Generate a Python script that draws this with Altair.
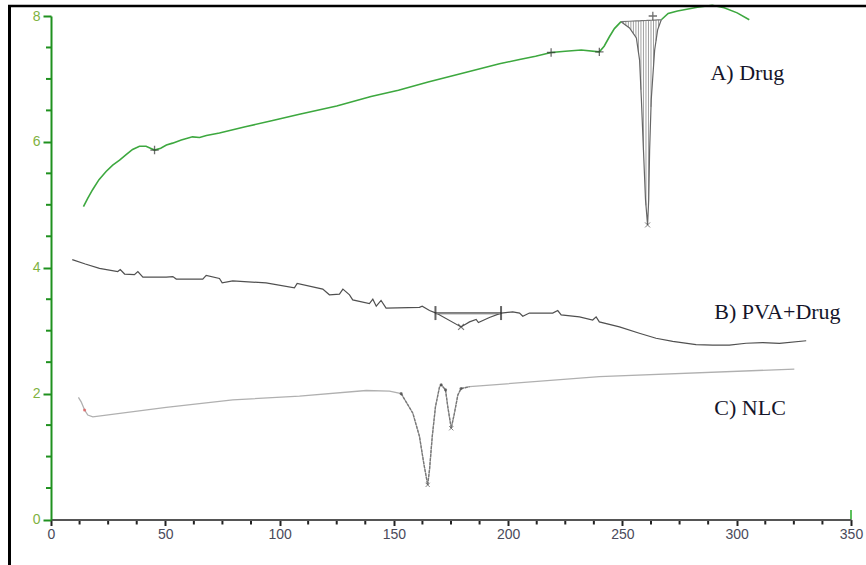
import altair as alt
import pandas as pd
import numpy as np

# ---------------- data ----------------
drug_x = [14.2, 16.0, 18.2, 21.0, 24.1, 27.0, 30.0, 33.0, 35.7, 38.7, 41.6, 43.5, 45.3, 48.0,
          50.5, 53.2, 57.0, 61.9, 65.0, 68.0, 73.7, 85.0, 97.0, 108.7, 125.0, 140.0, 152.0,
          165.0, 180.0, 196.2, 205.0, 212.0, 218.8, 225.0, 232.0, 239.9, 242.0, 244.3, 246.5,
          249.4, 253.1, 256.1, 257.5, 258.3, 259.2, 260.1, 261.0, 261.5, 261.9, 262.6, 264.1,
          265.4, 267.0, 270.0, 274.1, 282.8, 289.3, 294.5, 300.2, 305.5]
drug_y = [4.97, 5.10, 5.24, 5.40, 5.53, 5.63, 5.71, 5.80, 5.88, 5.93, 5.93, 5.90, 5.87, 5.90,
          5.95, 5.98, 6.03, 6.08, 6.07, 6.10, 6.14, 6.24, 6.34, 6.44, 6.57, 6.72, 6.82,
          6.95, 7.09, 7.24, 7.31, 7.36, 7.42, 7.44, 7.46, 7.43, 7.52, 7.67, 7.80,
          7.91, 7.81, 7.65, 7.30, 6.67, 5.87, 5.08, 4.68, 5.08, 5.87, 6.67, 7.46,
          7.78, 7.94, 8.04, 8.08, 8.14, 8.17, 8.13, 8.05, 7.94]
peak_start, peak_end = 249.4, 267.0
drug_mark_x = [45.3, 218.8, 239.9, 263.3]
drug_mark_y = [5.87, 7.42, 7.43, 8.00]
drug_min_x, drug_min_y = [261.0], [4.68]

pva_x = [9.3, 15.0, 21.2, 29.2, 30.3, 32.2, 36.5, 38.0, 40.2, 50.4, 53.3, 54.8, 66.4, 67.9,
         73.7, 74.9, 79.5, 94.1, 106.5, 107.7, 118.9, 121.8, 126.2, 127.7, 130.6, 132.0,
         139.3, 140.8, 142.3, 144.4, 146.6, 161.2, 162.4, 165.6, 168.5, 179.4, 183.1, 186.0,
         187.0, 191.8, 196.9, 202.0, 205.0, 206.4, 209.3, 219.5, 221.7, 223.2, 231.2, 237.0,
         238.5, 239.9, 248.7, 257.4, 264.7, 272.0, 282.2, 289.5, 296.8, 304.1, 311.4, 318.7,
         330.4]
pva_y = [4.13, 4.06, 3.99, 3.94, 3.97, 3.90, 3.89, 3.94, 3.85, 3.85, 3.86, 3.82, 3.82, 3.88,
         3.83, 3.76, 3.79, 3.76, 3.68, 3.75, 3.66, 3.57, 3.58, 3.66, 3.57, 3.49,
         3.43, 3.50, 3.39, 3.48, 3.36, 3.37, 3.39, 3.32, 3.28, 3.06, 3.14, 3.18,
         3.13, 3.21, 3.28, 3.30, 3.28, 3.23, 3.28, 3.28, 3.32, 3.25, 3.22, 3.17,
         3.22, 3.14, 3.06, 2.96, 2.88, 2.83, 2.78, 2.77, 2.77, 2.80, 2.81, 2.80,
         2.84]
pva_base_x = [168.2, 196.9]
pva_base_y = [3.28, 3.28]
pva_min_x, pva_min_y = [179.4], [3.06]

nlc_x = [12.0, 13.2, 14.7, 16.1, 18.3, 50.4, 79.5, 108.7, 137.9, 148.1, 153.2, 158.3, 161.2,
         163.1, 164.8, 165.6, 166.8, 168.2, 170.0, 170.7, 172.6, 173.6, 175.1, 176.5, 178.0,
         179.4, 183.1, 239.9, 325.2]
nlc_y = [1.94, 1.87, 1.74, 1.66, 1.63, 1.78, 1.90, 1.96, 2.05, 2.04, 2.00, 1.69, 1.32,
         0.89, 0.55, 0.79, 1.32, 1.79, 2.11, 2.14, 2.06, 1.79, 1.45, 1.69, 1.98,
         2.08, 2.11, 2.27, 2.39]
nlc_dip = [153.2, 183.1]
nlc_min_x, nlc_min_y = [164.8, 175.1], [0.55, 1.45]
nlc_pt_x, nlc_pt_y = [153.2, 170.7, 172.6, 179.4], [2.00, 2.14, 2.06, 2.08]

label_text = ["A) Drug", "B) PVA+Drug", "C) NLC"]
label_x = [288.5, 290.2, 290.2]
label_y = [7.09, 3.30, 1.77]

y_major = [0, 2, 4, 6, 8]
y_minor = [i * 0.5 for i in range(17) if (i * 0.5) % 2 != 0]
x_major = [0, 50, 100, 150, 200, 250, 300, 350]
x_minor = [i * 12.5 for i in range(29) if (i * 12.5) % 50 != 0]

# ---------------- scales / axes ----------------
GREEN = "#3da83f"
AXGREEN = "#1f911f"
xs = alt.Scale(domain=[0, 350], nice=False, zero=False)
ys = alt.Scale(domain=[0, 8], nice=False, zero=False)

x_axis = alt.Axis(values=x_major, format="d", zindex=2,
                  domainColor="#555555", domainWidth=2, tickColor="#222222", tickWidth=2,
                  tickSize=6, labelColor="#4a4a5a", labelFontSize=14, labelFont="Liberation Sans",
                  labelPadding=2, labelFlush=False, labelOverlap=False, grid=False, title=None)
y_axis = alt.Axis(values=y_major, format="d", zindex=2,
                  domainColor=AXGREEN, domainWidth=2, tickColor=AXGREEN, tickWidth=2,
                  tickSize=8, labelColor="#7fb23f", labelFontSize=14, labelFont="Liberation Sans",
                  labelPadding=3, labelOverlap=False, grid=False, title=None)

X = lambda: alt.X("x:Q", scale=xs, axis=x_axis)
Y = lambda: alt.Y("y:Q", scale=ys, axis=y_axis)

# ---------------- drug curve ----------------
drug = pd.DataFrame({"x": drug_x, "y": drug_y})
pre = drug[drug.x <= peak_start].assign(seg="pre")
post = drug[drug.x >= peak_end].assign(seg="post")
peak = drug[(drug.x >= peak_start) & (drug.x <= peak_end)].copy()
y_ps = float(drug.loc[drug.x == peak_start, "y"].iloc[0])
y_pe = float(drug.loc[drug.x == peak_end, "y"].iloc[0])
peak["base"] = np.interp(peak.x, [peak_start, peak_end], [y_ps, y_pe])
green = pd.concat([pre, post])

hx = np.arange(peak_start + 1.0, peak_end - 0.3, 1.1)
hatch = pd.DataFrame({"x": hx, "y": np.interp(hx, peak.x, peak.y),
                      "base": np.interp(hx, [peak_start, peak_end], [y_ps, y_pe])})

green_line = alt.Chart(green).mark_line(color=GREEN, strokeWidth=1.6, clip=False).encode(
    x=X(), y=Y(), detail="seg:N", order="x:Q")
peak_area = alt.Chart(peak).mark_area(color="#cfcfcf", opacity=0.6).encode(
    x="x:Q", y="y:Q", y2="base:Q", order="x:Q")
peak_line = alt.Chart(peak).mark_line(color="#666666", strokeWidth=1.2).encode(
    x="x:Q", y="y:Q", order="x:Q")
peak_base = alt.Chart(peak).mark_line(color="#777777", strokeWidth=1.2).encode(
    x="x:Q", y="base:Q", order="x:Q")
hatch_rules = alt.Chart(hatch).mark_rule(color="#888888", strokeWidth=0.8).encode(
    x="x:Q", y="y:Q", y2="base:Q")

PLUS = "M-1,0L1,0M0,-1L0,1"
CROSS = "M-1,-1L1,1M-1,1L1,-1"
drug_marks = alt.Chart(pd.DataFrame({"x": drug_mark_x, "y": drug_mark_y})).mark_point(
    shape=PLUS, filled=False, color="#333333", size=70, strokeWidth=1.3).encode(x="x:Q", y="y:Q")
drug_min = alt.Chart(pd.DataFrame({"x": drug_min_x, "y": drug_min_y})).mark_point(
    shape=CROSS, filled=False, color="#444444", size=25, strokeWidth=1).encode(x="x:Q", y="y:Q")

# ---------------- PVA + drug ----------------
pva_line = alt.Chart(pd.DataFrame({"x": pva_x, "y": pva_y})).mark_line(
    color="#505050", strokeWidth=1.2).encode(x="x:Q", y="y:Q", order="x:Q")
pva_base = alt.Chart(pd.DataFrame({"x": pva_base_x, "y": pva_base_y})).mark_line(
    color="#555555", strokeWidth=2.2).encode(x="x:Q", y="y:Q")
pva_base_in = alt.Chart(pd.DataFrame({"x": pva_base_x, "y": pva_base_y})).mark_line(
    color="#dddddd", strokeWidth=0.7).encode(x="x:Q", y="y:Q")
pva_ends = alt.Chart(pd.DataFrame({"x": pva_base_x, "y": pva_base_y})).mark_tick(
    color="#222222", thickness=2, size=14, orient="vertical").encode(x="x:Q", y="y:Q")
pva_min = alt.Chart(pd.DataFrame({"x": pva_min_x, "y": pva_min_y})).mark_point(
    shape=CROSS, filled=False, color="#444444", size=35, strokeWidth=1.2).encode(x="x:Q", y="y:Q")

# ---------------- NLC ----------------
nlc = pd.DataFrame({"x": nlc_x, "y": nlc_y})
nlc_line = alt.Chart(nlc).mark_line(color="#b0b0b0", strokeWidth=1.3).encode(
    x="x:Q", y="y:Q", order="x:Q")
nlc_dip_line = alt.Chart(nlc[(nlc.x >= nlc_dip[0]) & (nlc.x <= nlc_dip[1])]).mark_line(
    color="#777777", strokeWidth=1.3, strokeDash=[3, 1]).encode(x="x:Q", y="y:Q", order="x:Q")
nlc_min = alt.Chart(pd.DataFrame({"x": nlc_min_x, "y": nlc_min_y})).mark_point(
    shape=CROSS, filled=False, color="#555555", size=18, strokeWidth=1).encode(x="x:Q", y="y:Q")
nlc_pts = alt.Chart(pd.DataFrame({"x": nlc_pt_x, "y": nlc_pt_y})).mark_point(
    filled=True, color="#444444", size=10).encode(x="x:Q", y="y:Q")
nlc_red = alt.Chart(pd.DataFrame({"x": [nlc_x[2]], "y": [nlc_y[2]]})).mark_point(
    filled=True, color="#e05050", size=10).encode(x="x:Q", y="y:Q")

# ---------------- labels ----------------
labels = alt.Chart(pd.DataFrame({"x": label_x, "y": label_y, "t": label_text})).mark_text(
    align="left", baseline="middle", font="Liberation Serif", fontSize=22, color="#15152a").encode(
    x="x:Q", y="y:Q", text="t:N")

# ---------------- minor ticks (from the tick lists) ----------------
y_minor_ticks = alt.Chart(pd.DataFrame({"y": y_minor})).mark_rule(
    color=AXGREEN, strokeWidth=2).encode(y="y:Q", x=alt.value(-5), x2=alt.value(0))
x_minor_ticks = alt.Chart(pd.DataFrame({"x": x_minor})).mark_rule(
    color="#222222", strokeWidth=2).encode(x="x:Q", y=alt.value(503.5), y2=alt.value(508.5))

# ---------------- frame & end tick ----------------
one = pd.DataFrame({"a": [0]})
frame_left = alt.Chart(one).mark_rule(color="black", strokeWidth=3).encode(
    x=alt.value(-41.5), y=alt.value(-11), y2=alt.value(560))
frame_top = alt.Chart(one).mark_rule(color="black", strokeWidth=2.5).encode(
    x=alt.value(-43), x2=alt.value(820), y=alt.value(-10))
end_tick = alt.Chart(one).mark_rule(color="#5cc05c", strokeWidth=2).encode(
    x=alt.datum(350), y=alt.value(503.5), y2=alt.value(494))

chart = alt.layer(
    green_line, peak_area, hatch_rules, nlc_line, nlc_dip_line, nlc_min, nlc_pts, nlc_red,
    pva_line, pva_base, pva_base_in, pva_ends, pva_min,
    peak_line, peak_base, drug_marks, drug_min,
    labels, y_minor_ticks, x_minor_ticks, end_tick, frame_left, frame_top
).properties(
    width=800, height=503.5,
    autosize=alt.AutoSizeParams(type="none"),
    padding={"left": 51, "top": 16, "right": 15, "bottom": 46},
    background="white"
).configure_view(stroke=None)

chart.save("out.html", embed_options={"renderer": "svg", "actions": False})
